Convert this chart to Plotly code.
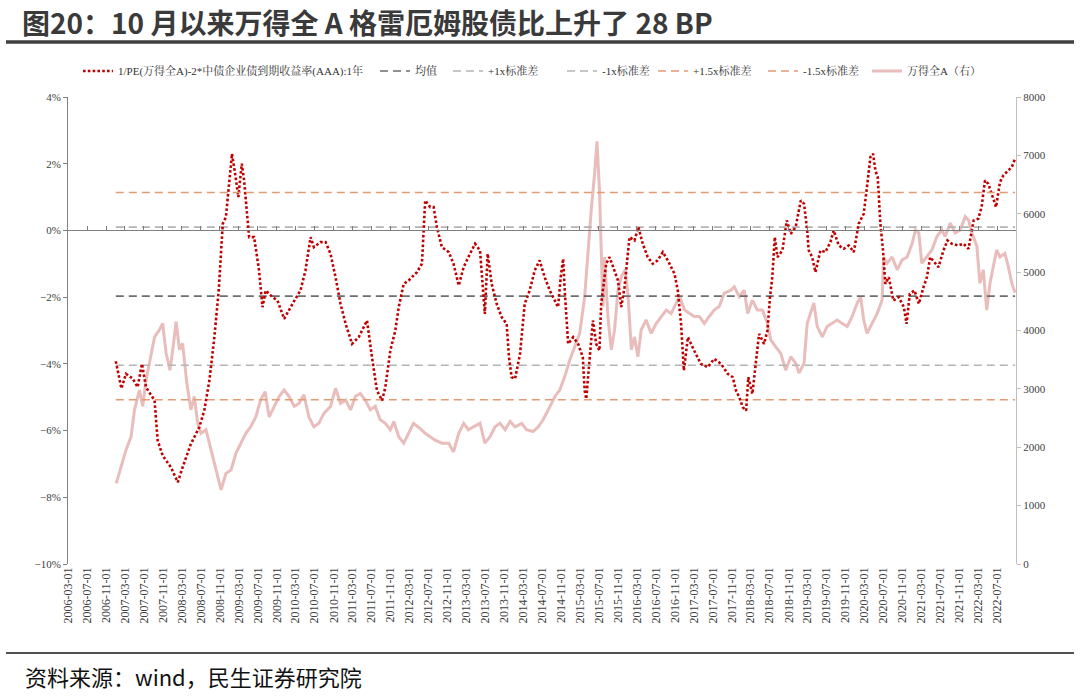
import plotly.graph_objects as go

# ---- data ----
ratio_dates = [
    "2007-01-02", "2007-02-07", "2007-03-08", "2007-04-20", "2007-05-22", "2007-06-19", "2007-07-15", "2007-09-08", "2007-09-28", "2007-10-30",
    "2007-12-22", "2008-02-04", "2008-03-06", "2008-04-28", "2008-06-21", "2008-07-23", "2008-08-25", "2008-09-26", "2008-10-24", "2008-11-08",
    "2008-11-19", "2008-12-09", "2008-12-27", "2009-01-17", "2009-02-08", "2009-02-27", "2009-03-21", "2009-04-05", "2009-05-07", "2009-06-08",
    "2009-07-10", "2009-08-01", "2009-08-22", "2009-10-04", "2009-11-05", "2009-12-18", "2010-02-10", "2010-04-02", "2010-05-04", "2010-06-06",
    "2010-06-27", "2010-08-09", "2010-09-10", "2010-10-12", "2010-11-13", "2010-12-15", "2011-01-17", "2011-02-27", "2011-04-11", "2011-06-03",
    "2011-07-05", "2011-08-06", "2011-09-08", "2011-09-29", "2011-10-31", "2011-12-02", "2011-12-24", "2012-01-25", "2012-02-26", "2012-04-19",
    "2012-05-21", "2012-06-11", "2012-07-13", "2012-08-04", "2012-08-25", "2012-09-26", "2012-11-09", "2012-12-10", "2013-01-12", "2013-02-13",
    "2013-03-15", "2013-04-27", "2013-05-29", "2013-06-29", "2013-07-17", "2013-08-12", "2013-09-13", "2013-10-15", "2013-11-16", "2013-12-01",
    "2013-12-18", "2014-01-09", "2014-02-10", "2014-03-12", "2014-04-13", "2014-05-15", "2014-06-16", "2014-07-18", "2014-08-20", "2014-10-12",
    "2014-10-29", "2014-11-14", "2014-11-24", "2014-12-16", "2015-01-17", "2015-02-18", "2015-03-20", "2015-04-01", "2015-04-11", "2015-05-02",
    "2015-05-24", "2015-06-14", "2015-07-05", "2015-07-16", "2015-08-17", "2015-09-08", "2015-10-10", "2015-11-01", "2015-11-22", "2015-12-13",
    "2016-01-14", "2016-02-15", "2016-03-11", "2016-04-08", "2016-05-10", "2016-06-11", "2016-07-13", "2016-08-15", "2016-09-16", "2016-10-29",
    "2016-11-19", "2016-12-10", "2016-12-28", "2017-01-23", "2017-03-04", "2017-04-16", "2017-05-30", "2017-07-11", "2017-08-24", "2017-10-06",
    "2017-11-07", "2017-11-28", "2017-12-19", "2018-01-10", "2018-02-01", "2018-02-15", "2018-03-13", "2018-04-04", "2018-04-25", "2018-05-27",
    "2018-06-18", "2018-07-04", "2018-07-19", "2018-08-04", "2018-08-21", "2018-09-22", "2018-10-20", "2018-11-15", "2018-12-16", "2019-01-18",
    "2019-02-08", "2019-02-28", "2019-03-10", "2019-04-01", "2019-04-22", "2019-05-24", "2019-06-25", "2019-07-27", "2019-08-17", "2019-09-19",
    "2019-10-21", "2019-11-22", "2019-12-24", "2020-01-25", "2020-02-26", "2020-03-18", "2020-04-09", "2020-04-26", "2020-05-11", "2020-05-26",
    "2020-06-12", "2020-06-29", "2020-07-14", "2020-08-05", "2020-09-03", "2020-10-08", "2020-11-10", "2020-11-27", "2020-12-18", "2021-01-17",
    "2021-02-14", "2021-03-16", "2021-04-07", "2021-04-28", "2021-05-30", "2021-06-20", "2021-07-22", "2021-08-17", "2021-09-14", "2021-10-26",
    "2021-11-28", "2021-12-30", "2022-02-01", "2022-03-03", "2022-03-24", "2022-04-15", "2022-05-06", "2022-06-04", "2022-06-25", "2022-07-20",
    "2022-08-11", "2022-09-12", "2022-10-04", "2022-10-25",
]
# 1/PE - 2*AAA 1y yield, in %
ratio_vals = [
    -3.92, -4.74, -4.3, -4.44, -4.7, -4.0, -4.7, -5.1, -6.3, -6.75,
    -7.1, -7.55, -7.1, -6.4, -5.9, -5.4, -4.5, -3.2, -1.8, -0.4,
    0.2, 0.4, 1.4, 2.3, 1.65, 1.0, 2.0, 1.5, -0.2, -0.2,
    -1.2, -2.3, -1.8, -2.0, -2.1, -2.65, -2.2, -1.8, -1.2, -0.2,
    -0.5, -0.35, -0.35, -0.7, -1.4, -2.2, -2.8, -3.4, -3.2, -2.7,
    -3.8, -4.8, -5.1, -4.7, -3.6, -3.0, -2.3, -1.6, -1.5, -1.25,
    -1.0, 0.9, 0.7, 0.7, 0.1, -0.5, -0.65, -1.0, -1.65, -1.1,
    -0.8, -0.4, -0.6, -2.5, -0.7, -1.6, -2.2, -2.6, -2.8, -3.8,
    -4.4, -4.45, -3.7, -2.2, -1.8, -1.2, -0.9, -1.4, -1.8, -2.3,
    -1.4, -0.85, -1.8, -3.4, -3.2, -3.4, -3.8, -4.8, -5.05, -3.8,
    -2.7, -3.4, -3.6, -2.2, -1.0, -0.8, -1.2, -1.5, -2.3, -1.7,
    -0.2, -0.3, 0.1, -0.4, -0.8, -1.0, -0.9, -0.65, -0.9, -1.3,
    -1.8, -2.8, -4.2, -3.2, -3.6, -4.0, -4.1, -3.85, -4.0, -4.3,
    -4.4, -4.8, -5.0, -5.3, -5.4, -4.4, -4.9, -4.0, -3.1, -3.4,
    -3.0, -2.0, -1.4, -0.2, -0.8, -0.6, 0.3, -0.1, 0.1, 0.9,
    0.8, 0.0, -0.6, -0.8, -1.25, -0.6, -0.65, -0.35, 0.0, -0.45,
    -0.55, -0.45, -0.65, 0.2, 0.5, 1.3, 2.2, 2.3, 1.8, 1.6,
    0.2, -0.6, -1.6, -1.4, -2.1, -2.0, -2.3, -2.8, -1.9, -1.8,
    -2.2, -1.7, -1.4, -0.8, -1.0, -1.1, -0.6, -0.3, -0.4, -0.45,
    -0.4, -0.55, 0.3, 0.35, 0.7, 1.5, 1.4, 1.0, 0.7, 1.45,
    1.65, 1.8, 1.9, 2.15,
]

index_dates = [
    "2007-01-05", "2007-02-07", "2007-03-08", "2007-04-10", "2007-05-02", "2007-06-03", "2007-06-24", "2007-07-15", "2007-08-06", "2007-09-08",
    "2007-10-09", "2007-10-30", "2007-11-21", "2007-12-16", "2008-01-08", "2008-01-24", "2008-02-15", "2008-03-06", "2008-04-02", "2008-04-28",
    "2008-05-20", "2008-06-11", "2008-07-02", "2008-08-03", "2008-09-05", "2008-10-06", "2008-11-08", "2008-12-09", "2009-01-11", "2009-02-12",
    "2009-03-14", "2009-04-16", "2009-05-17", "2009-06-19", "2009-07-20", "2009-08-18", "2009-09-13", "2009-10-15", "2009-11-16", "2009-12-18",
    "2010-01-19", "2010-02-21", "2010-03-23", "2010-04-24", "2010-05-26", "2010-06-27", "2010-07-29", "2010-08-30", "2010-10-12", "2010-11-13",
    "2010-12-15", "2011-01-17", "2011-02-18", "2011-03-20", "2011-04-21", "2011-05-23", "2011-06-24", "2011-07-26", "2011-08-27", "2011-09-29",
    "2011-10-31", "2011-11-22", "2011-12-24", "2012-01-25", "2012-02-26", "2012-03-28", "2012-05-10", "2012-06-11", "2012-07-13", "2012-08-14",
    "2012-09-26", "2012-11-09", "2012-12-10", "2013-01-12", "2013-02-13", "2013-03-15", "2013-04-17", "2013-05-29", "2013-06-29", "2013-08-01",
    "2013-09-03", "2013-10-04", "2013-11-06", "2013-12-08", "2014-01-09", "2014-02-21", "2014-03-23", "2014-05-05", "2014-06-07", "2014-07-08",
    "2014-08-10", "2014-09-22", "2014-10-23", "2014-11-24", "2014-12-26", "2015-01-28", "2015-02-28", "2015-04-01", "2015-04-22", "2015-05-13",
    "2015-06-04", "2015-06-19", "2015-07-05", "2015-07-16", "2015-07-27", "2015-08-07", "2015-08-28", "2015-09-19", "2015-10-10", "2015-11-01",
    "2015-11-22", "2015-12-18", "2016-01-05", "2016-01-26", "2016-02-15", "2016-03-08", "2016-03-29", "2016-04-30", "2016-06-01", "2016-07-03",
    "2016-08-04", "2016-09-06", "2016-10-07", "2016-11-09", "2016-11-30", "2017-01-02", "2017-02-03", "2017-03-04", "2017-04-06", "2017-05-08",
    "2017-06-09", "2017-07-11", "2017-08-12", "2017-09-14", "2017-10-26", "2017-11-17", "2017-12-19", "2018-01-20", "2018-02-11", "2018-03-13",
    "2018-04-14", "2018-05-16", "2018-06-18", "2018-07-09", "2018-08-10", "2018-09-11", "2018-10-13", "2018-11-15", "2018-12-16", "2019-01-07",
    "2019-02-08", "2019-02-28", "2019-03-21", "2019-04-12", "2019-05-03", "2019-06-05", "2019-07-06", "2019-08-08", "2019-09-09", "2019-10-11",
    "2019-11-12", "2019-12-14", "2020-01-15", "2020-02-06", "2020-02-26", "2020-03-18", "2020-04-20", "2020-05-22", "2020-06-23", "2020-07-03",
    "2020-07-25", "2020-08-26", "2020-09-28", "2020-10-30", "2020-12-01", "2021-01-02", "2021-01-23", "2021-02-14", "2021-03-05", "2021-04-07",
    "2021-05-09", "2021-06-10", "2021-07-12", "2021-08-02", "2021-09-04", "2021-10-06", "2021-11-07", "2021-12-09", "2021-12-30", "2022-01-21",
    "2022-02-22", "2022-03-13", "2022-04-04", "2022-04-26", "2022-05-17", "2022-06-07", "2022-06-29", "2022-07-20", "2022-08-21", "2022-09-12",
    "2022-10-04", "2022-10-25",
]
# Wind All A index level (right axis)
index_vals = [
    1380, 1670, 1950, 2180, 2640, 2980, 2700, 3150, 3440, 3890,
    4010, 4120, 3610, 3320, 3780, 4150, 3670, 3780, 3100, 2640,
    2870, 2410, 2240, 2300, 1950, 1610, 1270, 1550, 1610, 1900,
    2070, 2240, 2350, 2520, 2810, 2950, 2520, 2700, 2870, 2980,
    2870, 2700, 2750, 2900, 2520, 2350, 2410, 2580, 2700, 3010,
    2750, 2810, 2640, 2870, 2920, 2810, 2640, 2700, 2470, 2410,
    2300, 2440, 2180, 2070, 2240, 2410, 2320, 2240, 2180, 2120,
    2070, 2070, 1920, 2240, 2410, 2300, 2350, 2410, 2070, 2180,
    2350, 2410, 2300, 2440, 2350, 2410, 2300, 2270, 2350, 2470,
    2640, 2870, 2980, 3210, 3490, 3720, 3950, 4580, 5380, 6060,
    6690, 7240, 6410, 5380, 4410, 5260, 4240, 3670, 4010, 4690,
    4920, 5040, 4580, 3670, 3890, 3550, 4010, 4180, 3950, 4120,
    4240, 4350, 4290, 4470, 4580, 4350, 4290, 4240, 4240, 4120,
    4240, 4350, 4410, 4640, 4690, 4750, 4580, 4690, 4290, 4520,
    4350, 4350, 4120, 3840, 3720, 3610, 3320, 3550, 3440, 3270,
    3440, 4120, 4290, 4470, 4070, 3890, 4070, 4120, 4180, 4120,
    4070, 4240, 4470, 4580, 4180, 3950, 4120, 4290, 4520, 5260,
    5150, 5260, 5040, 5210, 5260, 5490, 5720, 5670, 5150, 5260,
    5380, 5610, 5720, 5610, 5840, 5670, 5720, 5950, 5890, 5670,
    5440, 4810, 5040, 4350, 4810, 5090, 5380, 5260, 5320, 5090,
    4810, 4650,
]

mean_val = -1.97
std_val = 2.07

band_names = ["均值", "+1x标准差", "-1x标准差", "+1.5x标准差", "-1.5x标准差"]
band_mult = [0, 1, -1, 1.5, -1.5]
band_colors = ["#6e6e6e", "#b4b4b4", "#b4b4b4", "#e29c74", "#e29c74"]

ratio_name = "1/PE(万得全A)-2*中债企业债到期收益率(AAA):1年"
index_name = "万得全A（右）"
title = "<b>图20：10 月以来万得全 A 格雷厄姆股债比上升了 28 BP</b>"
source = "资料来源：wind，民生证券研究院"

# ---- layout geometry (pixels) ----
W, H = 1080, 699
L, R, T, B = 68, 64, 97, 135
plot_w, plot_h = W - L - R, H - T - B


def px_x(x):
    return (x - L) / plot_w


def px_y(y):
    return (H - B - y) / plot_h


serif = "Liberation Serif, Noto Serif CJK SC, Noto Sans CJK SC, serif"
tick_font = dict(family=serif, size=11, color="#404040")
legend_font = dict(family=serif, size=11, color="#333333")

# left edge (px) of each legend entry: ratio, 5 bands, index
legend_left = [78, 375, 448, 562, 653, 763, 867]

fig = go.Figure()

# index line on the right axis (drawn first, behind everything)
fig.add_trace(go.Scatter(
    x=index_dates, y=index_vals, name=index_name, mode="lines",
    line=dict(color="#e8bdbc", width=3), yaxis="y", legend="legend7",
))

# std bands
line_span = [ratio_dates[0], ratio_dates[-1]]
for i, (nm, k, c) in enumerate(zip(band_names, band_mult, band_colors)):
    lvl = mean_val + k * std_val
    fig.add_trace(go.Scatter(
        x=line_span, y=[lvl, lvl], name=nm, mode="lines",
        line=dict(color=c, width=1.6, dash="8px,5px"),
        xaxis="x2" if i == 3 else "x", yaxis="y2", legend=f"legend{i + 2}",
    ))

# the ratio itself
fig.add_trace(go.Scatter(
    x=ratio_dates, y=ratio_vals, name=ratio_name, mode="lines",
    line=dict(color="#c00000", width=2.6, dash="2.6px,2.2px"),
    yaxis="y2", legend="legend",
))

legends = {}
for i, lx in enumerate(legend_left):
    key = "legend" if i == 0 else f"legend{i + 1}"
    legends[key] = dict(orientation="h", x=px_x(lx), y=px_y(71),
                        xanchor="left", yanchor="middle", font=legend_font,
                        bgcolor="rgba(0,0,0,0)", itemwidth=30)

fig.update_layout(
    width=W, height=H,
    margin=dict(l=L, r=R, t=T, b=B, autoexpand=False),
    paper_bgcolor="white", plot_bgcolor="white",
    xaxis=dict(type="date", range=["2006-03-01", "2022-10-31"],
               tick0="2006-03-01", dtick="M4", tickformat="%Y-%m-%d",
               tickangle=-90, tickfont=dict(family=serif, size=12, color="#404040"),
               showgrid=False, showline=False, ticks="", zeroline=False),
    xaxis2=dict(type="date", overlaying="x", matches="x", anchor="free",
                position=10 / 14, tick0="2006-03-01", dtick="M4",
                showticklabels=False, showgrid=False, showline=True,
                linecolor="#7f7f7f", linewidth=1.3, ticks="inside",
                ticklen=4, tickcolor="#7f7f7f", zeroline=False),
    yaxis=dict(side="right", range=[0, 8000], dtick=1000, showgrid=False,
               zeroline=False, showline=True, linecolor="#bfbfbf",
               ticks="outside", ticklen=4, tickcolor="#bfbfbf",
               tickfont=tick_font),
    yaxis2=dict(overlaying="y", side="left", anchor="x", range=[-10, 4],
                dtick=2, ticksuffix="%", showgrid=False, zeroline=False,
                showline=True, linecolor="#808080", ticks="outside",
                ticklen=4, tickcolor="#808080", tickfont=tick_font),
    showlegend=True,
    **legends,
)

# title, title rule, footer rule and source line
fig.add_annotation(text=title, xref="paper", yref="paper",
                   x=px_x(20), y=px_y(22), xanchor="left", yanchor="middle",
                   showarrow=False,
                   font=dict(family="Noto Sans CJK SC", size=28, color="#3a3a3a"))
fig.add_shape(type="line", xref="paper", yref="paper",
              x0=px_x(6), x1=px_x(1074), y0=px_y(42), y1=px_y(42),
              line=dict(color="#404040", width=3.5))
fig.add_shape(type="line", xref="paper", yref="paper",
              x0=px_x(6), x1=px_x(1074), y0=px_y(653), y1=px_y(653),
              line=dict(color="#505050", width=2))
fig.add_annotation(text=source, xref="paper", yref="paper",
                   x=px_x(23), y=px_y(676), xanchor="left", yanchor="middle",
                   showarrow=False,
                   font=dict(family="Noto Sans CJK SC", size=22, color="#111111"))

# drop the default page margin so the figure sits at the window origin
fig.write_html("out.html", config={"displayModeBar": False},
               post_script="document.body.style.margin='0';")
